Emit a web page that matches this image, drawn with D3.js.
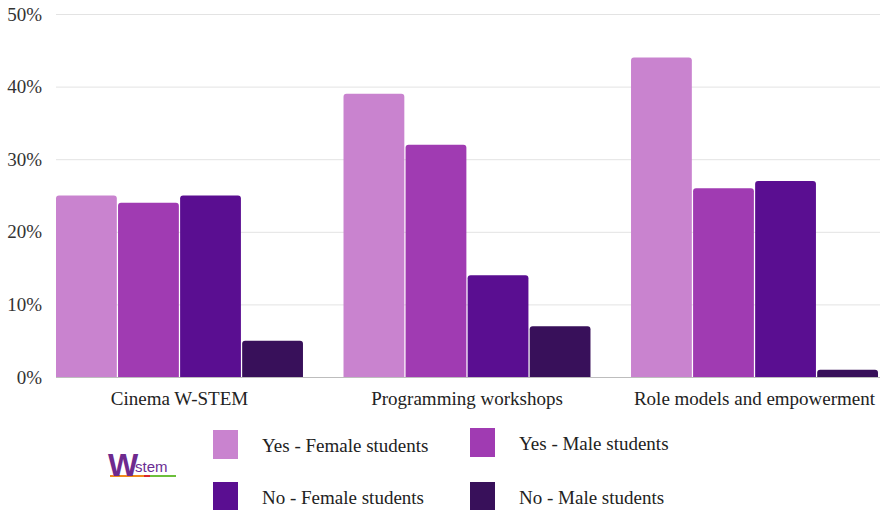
<!DOCTYPE html>
<html>
<head>
<meta charset="utf-8">
<script src="https://cdn.jsdelivr.net/npm/d3@7"></script>
<style>
  body { margin: 0; background: #fff; }
  svg { display: block; font-family: "Liberation Serif", "DejaVu Serif", serif; }
</style>
</head>
<body>
<svg id="chart" width="881" height="510"></svg>
<script>
var categories = ['Cinema W-STEM', 'Programming workshops', 'Role models and empowerment'];
var seriesNames = ['Yes - Female students', 'Yes - Male students', 'No - Female students', 'No - Male students'];
var yesFemale = [25, 39, 44];
var yesMale = [24, 32, 26];
var noFemale = [25, 14, 27];
var noMale = [5, 7, 1];
var yTicks = [0, 10, 20, 30, 40, 50];
var colors = ['#c983cf', '#a03bb2', '#5a0e91', '#38105a'];

var series = [yesFemale, yesMale, noFemale, noMale];
var rows = categories.map((c, i) => ({cat: c, values: series.map(s => s[i])}));

var svg = d3.select('#chart');
var plotLeft = 56, plotRight = 878, plotTop = 14, plotBottom = 377;

var x0 = d3.scaleBand().domain(categories).range([plotLeft, plotRight]).paddingInner(0.141).paddingOuter(0);
var x1 = d3.scaleBand().domain(d3.range(seriesNames.length)).range([0, x0.bandwidth()]).paddingInner(0.02);
var y = d3.scaleLinear().domain([0, 50]).range([plotBottom, plotTop]);
var color = d3.scaleOrdinal().domain(d3.range(seriesNames.length)).range(colors);

// grid
svg.append('g')
  .selectAll('line')
  .data(yTicks)
  .join('line')
    .attr('x1', 56).attr('x2', 880)
    .attr('y1', d => y(d) + 0.5).attr('y2', d => y(d) + 0.5)
    .attr('stroke', d => d === 0 ? '#bdbdbd' : '#e3e3e3')
    .attr('stroke-width', 1);

// y axis labels
svg.append('g')
  .selectAll('text')
  .data(yTicks)
  .join('text')
    .attr('x', 42)
    .attr('y', d => y(d))
    .attr('dy', '0.35em')
    .attr('text-anchor', 'end')
    .attr('fill', '#333')
    .style('font-size', '19px')
    .text(d => d + '%');

// bars with rounded top corners
function barPath(x, yTop, w, h, r) {
  r = Math.min(r, h, w / 2);
  return `M${x},${yTop + h}V${yTop + r}Q${x},${yTop} ${x + r},${yTop}H${x + w - r}Q${x + w},${yTop} ${x + w},${yTop + r}V${yTop + h}Z`;
}

var group = svg.append('g')
  .selectAll('g')
  .data(rows)
  .join('g')
    .attr('transform', d => `translate(${x0(d.cat)},0)`);

group.selectAll('path')
  .data(d => d.values.map((v, i) => ({i: i, v: v})))
  .join('path')
    .attr('fill', d => color(d.i))
    .attr('d', d => barPath(x1(d.i), y(d.v), x1.bandwidth(), y(0) - y(d.v), 3));

// category labels
svg.append('g')
  .selectAll('text')
  .data(categories)
  .join('text')
    .attr('x', d => x0(d) + x0.bandwidth() / 2)
    .attr('y', 405)
    .attr('text-anchor', 'middle')
    .attr('fill', '#222')
    .style('font-size', '19px')
    .text(d => d);

// legend
var legendPos = [[213, 430], [470, 428], [213, 482], [470, 482]];
var legend = svg.append('g')
  .selectAll('g')
  .data(seriesNames)
  .join('g')
    .attr('transform', (d, i) => `translate(${legendPos[i][0]},${legendPos[i][1]})`);

legend.append('rect')
  .attr('width', 25).attr('height', 29)
  .attr('fill', (d, i) => color(i));

legend.append('text')
  .attr('x', 49).attr('y', 15)
  .attr('dy', '0.35em')
  .attr('fill', '#222')
  .style('font-size', '19px')
  .text(d => d);

// logo
var logo = svg.append('g').attr('transform', 'translate(108,450)');
logo.append('line').attr('x1', 2).attr('x2', 36).attr('y1', 26).attr('y2', 26)
  .attr('stroke', '#f08a1c').attr('stroke-width', 2);
logo.append('line').attr('x1', 36).attr('x2', 42).attr('y1', 26).attr('y2', 26)
  .attr('stroke', '#d8262c').attr('stroke-width', 2);
logo.append('line').attr('x1', 42).attr('x2', 68).attr('y1', 26).attr('y2', 26)
  .attr('stroke', '#6cbf3b').attr('stroke-width', 2);
logo.append('text')
  .attr('x', 0).attr('y', 26)
  .attr('fill', '#6e2a8e')
  .style('font-family', 'Liberation Sans, Arial, sans-serif')
  .style('font-weight', 'bold')
  .style('font-size', '32px')
  .style('letter-spacing', '-2px')
  .text('W');
logo.append('text')
  .attr('x', 27).attr('y', 22)
  .attr('fill', '#6b2d93')
  .style('font-family', 'Liberation Sans, Arial, sans-serif')
  .style('font-size', '15px')
  .text('stem');
</script>
</body>
</html>
